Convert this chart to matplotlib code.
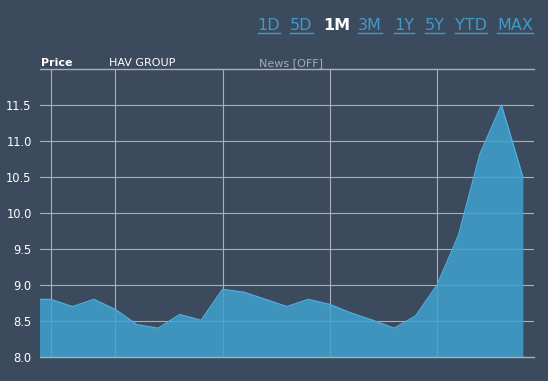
import matplotlib
matplotlib.use("Agg")
import matplotlib.pyplot as plt
from matplotlib.lines import Line2D

# Data (trading-day index, closing price)
days = list(range(24))
prices = [8.80, 8.80, 8.70, 8.80, 8.66, 8.45, 8.40, 8.59, 8.51, 8.94, 8.90, 8.80,
          8.70, 8.80, 8.73, 8.61, 8.51, 8.40, 8.57, 9.00, 9.69, 10.82, 11.50, 10.50]
week_ticks = [1, 4, 9, 14, 19]
y_ticks = [8.0, 8.5, 9.0, 9.5, 10.0, 10.5, 11.0, 11.5]
y_labels = ["8.0", "8.5", "9.0", "9.5", "10.0", "10.5", "11.0", "11.5"]
ranges = ["1D", "5D", "1M", "3M", "1Y", "5Y", "YTD", "MAX"]
active_range = "1M"
header_labels = ["Price", "HAV GROUP", "News [OFF]"]

BG = "#3b4a5c"
GRID = "#a9b0b8"
FILL = "#3fa2ce"
LINE = "#48aede"
LINK = "#3d9ccb"

W, H = 548, 381
fig = plt.figure(figsize=(W / 100, H / 100), dpi=100, facecolor=BG)
ax = fig.add_axes([40 / W, (H - 357) / H, (534 - 40) / W, (357 - 69) / H])
ax.set_facecolor(BG)

ax.fill_between(days, prices, 8.0, color=FILL, alpha=0.85, lw=0, zorder=2)
ax.plot(days, prices, color=LINE, lw=1.0, zorder=3)

ax.set_xlim(0.487, 23.52)
ax.set_ylim(8.0, 12.0)
ax.set_xticks(week_ticks)
ax.set_xticklabels([])
ax.set_yticks(y_ticks)
ax.set_yticklabels(y_labels)
ax.tick_params(axis="both", length=0, colors="white", labelsize=8.3, pad=6)
ax.grid(True, color=GRID, lw=0.8, zorder=1)
ax.set_axisbelow(True)
for s in ["left", "right"]:
    ax.spines[s].set_visible(False)
for s in ["top", "bottom"]:
    ax.spines[s].set_color(GRID)
    ax.spines[s].set_linewidth(1.0)
for lbl in ax.get_yticklabels():
    lbl.set_color("white")

# header labels
fig.text(41 / W, 1 - 66 / H, header_labels[0], color="white", fontsize=8,
         fontweight="bold", va="baseline", ha="left")
fig.text(109 / W, 1 - 66 / H, header_labels[1], color="white", fontsize=8,
         va="baseline", ha="left")
fig.text(259 / W, 1 - 66 / H, header_labels[2], color="#a3abb4", fontsize=8,
         va="baseline", ha="left")

# range selector
xs = [257.5, 290, 323.5, 358, 394, 424.5, 455, 497]
fig.canvas.draw()
renderer = fig.canvas.get_renderer()
for r, x0 in zip(ranges, xs):
    active = r == active_range
    t = fig.text(x0 / W, 1 - 30.5 / H, r, color="white" if active else LINK,
                 fontsize=11.5, fontweight="bold" if active else "normal",
                 va="baseline", ha="left",
                 family=["Liberation Sans Narrow", "DejaVu Sans"])
    if not active:
        bb = t.get_window_extent(renderer)
        y = 1 - 32.5 / H
        fig.add_artist(Line2D([bb.x0 / W, bb.x1 / W], [y, y], color=LINK, lw=1.0))

fig.savefig("out.png", dpi=100, facecolor=BG)
